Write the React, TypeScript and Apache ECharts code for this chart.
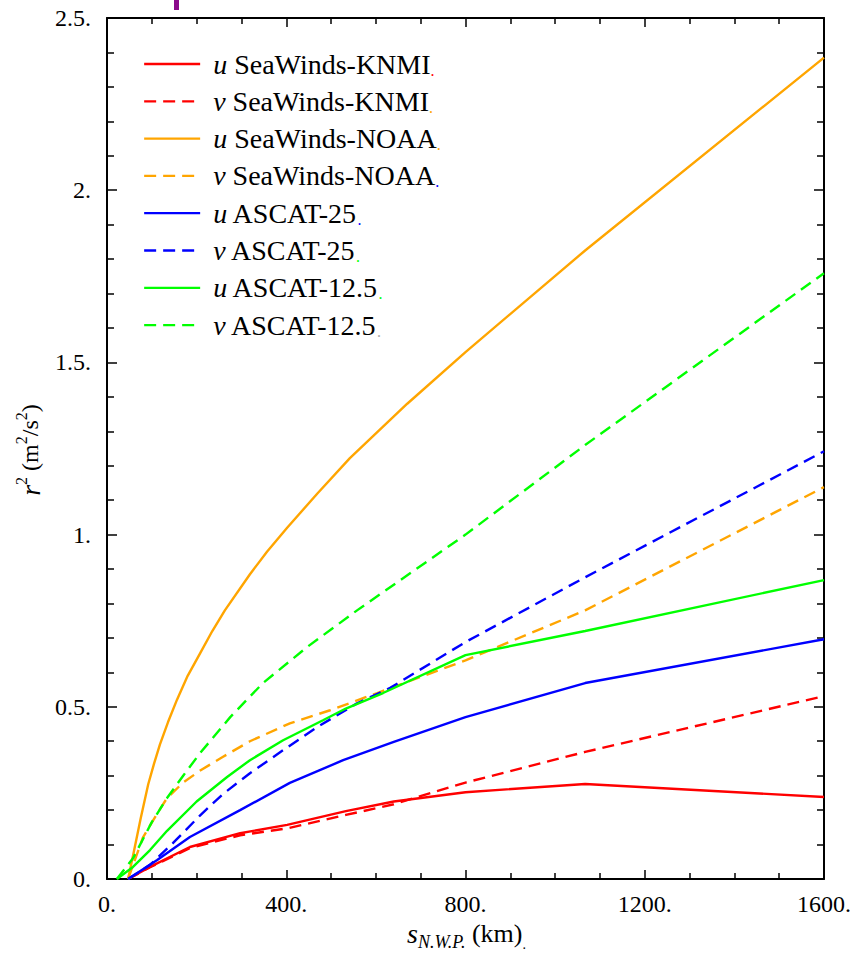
import React, { useEffect, useRef } from 'react';
import * as echarts from 'echarts';

// ---- data (km, r^2) ----
const xTickValues = [0, 400, 800, 1200, 1600];
const yTickValues = [0, 0.5, 1, 1.5, 2, 2.5];

const uKNMI: [number, number][] = [
  [47, 0], [96, 0.035], [185, 0.093], [297, 0.133], [402, 0.157], [533, 0.197],
  [640, 0.225], [800, 0.252], [1067, 0.276], [1600, 0.238],
];
const vKNMI: [number, number][] = [
  [47, 0], [96, 0.034], [185, 0.09], [297, 0.127], [402, 0.147], [533, 0.186],
  [640, 0.217], [800, 0.28], [1067, 0.369], [1600, 0.531],
];
const uNOAA: [number, number][] = [
  [47, 0], [60, 0.08], [75, 0.175], [92, 0.275], [105, 0.335], [118, 0.39],
  [136, 0.455], [156, 0.52], [180, 0.59], [208, 0.656], [235, 0.72], [263, 0.78],
  [319, 0.885], [357, 0.95], [402, 1.02], [470, 1.12], [542, 1.222],
  [670, 1.38], [800, 1.53], [1067, 1.825], [1600, 2.385],
];
const vNOAA: [number, number][] = [
  [47, 0], [80, 0.12], [112, 0.19], [134, 0.235], [170, 0.28], [208, 0.315],
  [259, 0.355], [319, 0.4], [408, 0.452], [498, 0.49], [603, 0.54],
  [800, 0.635], [1067, 0.78], [1600, 1.138],
];
const uA25: [number, number][] = [
  [47, 0], [112, 0.055], [185, 0.122], [297, 0.2], [408, 0.279], [527, 0.345],
  [640, 0.398], [800, 0.47], [1067, 0.569], [1600, 0.696],
];
const vA25: [number, number][] = [
  [47, 0], [96, 0.041], [147, 0.104], [208, 0.185], [259, 0.247], [319, 0.307],
  [393, 0.374], [469, 0.441], [558, 0.51], [632, 0.555], [800, 0.688],
  [1067, 0.876], [1600, 1.242],
];
const uA125: [number, number][] = [
  [22, 0], [58, 0.035], [96, 0.084], [134, 0.14], [200, 0.225], [268, 0.296],
  [319, 0.345], [393, 0.403], [482, 0.461], [533, 0.495], [616, 0.54],
  [800, 0.65], [1067, 0.72], [1600, 0.868],
];
const vA125: [number, number][] = [
  [22, 0], [58, 0.06], [100, 0.165], [134, 0.235], [170, 0.3], [208, 0.366],
  [275, 0.47], [348, 0.569], [446, 0.673], [558, 0.78], [800, 1.0],
  [1067, 1.26], [1600, 1.759],
];

const seriesNames = [
  'u SeaWinds-KNMI', 'v SeaWinds-KNMI', 'u SeaWinds-NOAA', 'v SeaWinds-NOAA',
  'u ASCAT-25', 'v ASCAT-25', 'u ASCAT-12.5', 'v ASCAT-12.5',
];
const seriesData = [uKNMI, vKNMI, uNOAA, vNOAA, uA25, vA25, uA125, vA125];
const seriesColors = ['#ff0000', '#ff0000', '#ffa500', '#ffa500', '#0000ff', '#0000ff', '#00ff00', '#00ff00'];
const seriesDashed = [false, true, false, true, false, true, false, true];
const legendDotColors = ['#ff0000', '#ffa500', '#ffa500', '#0000ff', '#0000ff', '#00ff00', '#00ff00', '#aaaaaa'];

const SERIF = 'Liberation Serif';

function fmt(v: number): string {
  return `${v}.`;
}

export default function App() {
  const ref = useRef<HTMLDivElement>(null);

  useEffect(() => {
    if (!ref.current) return;
    const chart = echarts.init(ref.current, undefined, { renderer: 'svg' });

    const axisCommon = {
      axisLine: { show: true, onZero: false, lineStyle: { color: '#000', width: 2 } },
      axisTick: { show: true, inside: true, length: 9, lineStyle: { color: '#000', width: 1.5 } },
      minorTick: { show: true, length: 6, lineStyle: { color: '#000', width: 1.5 } },
      splitLine: { show: false },
      minorSplitLine: { show: false },
    };

    const richLegend: Record<string, any> = {
      i: { fontFamily: SERIF, fontSize: 28, fontStyle: 'italic', color: '#000' },
      n: { fontFamily: SERIF, fontSize: 28, color: '#000' },
    };
    legendDotColors.forEach((c, k) => {
      richLegend['d' + k] = { fontFamily: SERIF, fontSize: 16, color: c, verticalAlign: 'bottom' };
    });

    const option: any = {
      animation: false,
      backgroundColor: '#ffffff',
      textStyle: { fontFamily: SERIF },
      grid: { left: 107, right: 30, top: 18, bottom: 79, containLabel: false },
      xAxis: [
        {
          type: 'value', min: 0, max: 1600, interval: 400, position: 'bottom',
          ...axisCommon,
          minorTick: { ...axisCommon.minorTick, splitNumber: 4 },
          axisLabel: {
            show: true, margin: 13, color: '#000', fontFamily: SERIF, fontSize: 24,
            formatter: (v: number) => (xTickValues.includes(v) ? fmt(v) : ''),
          },
        },
        {
          type: 'value', min: 0, max: 1600, interval: 400, position: 'top',
          ...axisCommon,
          minorTick: { ...axisCommon.minorTick, splitNumber: 4 },
          axisLabel: { show: false },
        },
      ],
      yAxis: [
        {
          type: 'value', min: 0, max: 2.5, interval: 0.5, position: 'left',
          ...axisCommon,
          axisTick: { ...axisCommon.axisTick, length: 10 },
          minorTick: { ...axisCommon.minorTick, splitNumber: 5, length: 7 },
          axisLabel: {
            show: true, margin: 16, color: '#000', fontFamily: SERIF, fontSize: 24,
            formatter: (v: number) => (yTickValues.includes(v) ? fmt(v) : ''),
          },
        },
        {
          type: 'value', min: 0, max: 2.5, interval: 0.5, position: 'right',
          ...axisCommon,
          axisTick: { ...axisCommon.axisTick, length: 10 },
          minorTick: { ...axisCommon.minorTick, splitNumber: 5, length: 7 },
          axisLabel: { show: false },
        },
      ],
      legend: {
        orient: 'vertical',
        left: 143,
        top: 50,
        itemWidth: 56,
        itemHeight: 14,
        itemGap: 9.3,
        padding: 0,
        selectedMode: false,
        data: seriesNames,
        itemStyle: { opacity: 0, borderWidth: 0 },
        lineStyle: { width: 2.3 },
        textStyle: {
          fontFamily: SERIF, fontSize: 28, lineHeight: 28, color: '#000',
          padding: [0, 0, 0, 8],
          rich: richLegend,
        },
        formatter: (name: string) => {
          const k = seriesNames.indexOf(name);
          return `{i|${name[0]}}{n|${name.slice(1)}}{d${k}|.}`;
        },
      },
      series: seriesNames.map((name, k) => ({
        name,
        type: 'line',
        xAxisIndex: 0,
        yAxisIndex: 0,
        data: seriesData[k],
        symbol: 'none',
        showSymbol: false,
        smooth: false,
        color: seriesColors[k],
        lineStyle: {
          color: seriesColors[k],
          width: 2.4,
          type: seriesDashed[k] ? [12, 7] : 'solid',
        },
        z: 2,
      })),
      graphic: [
        {
          type: 'rect',
          shape: { x: 174, y: 0, width: 5, height: 10 },
          style: { fill: '#8b0a8b' },
        },
        {
          type: 'text',
          left: 407,
          top: 919,
          style: {
            text: '{s|s}{sub|N.W.P.}{n| (km)}{d|.}',
            rich: {
              s: { fontFamily: SERIF, fontSize: 28, fontStyle: 'italic', color: '#000', lineHeight: 36 },
              sub: { fontFamily: SERIF, fontSize: 18, fontStyle: 'italic', color: '#000', verticalAlign: 'bottom', lineHeight: 36 },
              n: { fontFamily: SERIF, fontSize: 26, color: '#000', lineHeight: 36 },
              d: { fontFamily: SERIF, fontSize: 14, color: '#999', verticalAlign: 'bottom', lineHeight: 36 },
            },
          },
        },
        {
          type: 'text',
          x: 30,
          y: 450,
          rotation: Math.PI / 2,
          style: {
            text: '{i|r}{sup|2}{n| (m}{sup|2}{n|/s}{sup|2}{n|)}',
            align: 'center',
            verticalAlign: 'middle',
            rich: {
              i: { fontFamily: SERIF, fontSize: 28, fontStyle: 'italic', color: '#000', lineHeight: 34 },
              sup: { fontFamily: SERIF, fontSize: 16, color: '#000', verticalAlign: 'top', lineHeight: 34 },
              n: { fontFamily: SERIF, fontSize: 24, color: '#000', lineHeight: 34 },
            },
          },
        },
      ],
    };

    chart.setOption(option);
    return () => {
      chart.dispose();
    };
  }, []);

  return (
    <div
      ref={ref}
      style={{ position: 'fixed', left: 0, top: 0, width: 854, height: 958, background: '#fff' }}
    />
  );
}
